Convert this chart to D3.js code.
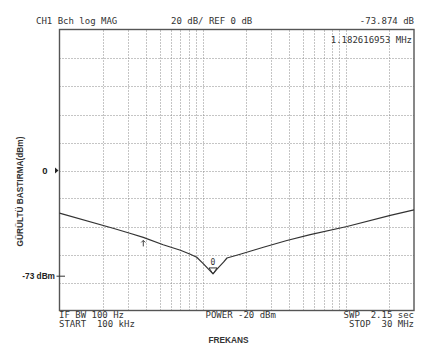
<!DOCTYPE html>
<html><head><meta charset="utf-8">
<script src="https://cdn.jsdelivr.net/npm/d3@7"></script>
<style>
body{margin:0;background:#fff;}
svg{display:block;}
.mono{font-family:"DejaVu Sans Mono","Liberation Mono",monospace;font-size:9px;fill:#333;white-space:pre;}
</style></head>
<body>
<svg id="chart" width="445" height="359"></svg>
<script>
// ---- data ----
const freqs = [1e5, 2.4e5, 3.1e5, 3.85e5, 5.3e5, 7e5, 8.2e5, 9.1e5, 1.01e6, 1.182616953e6, 1.26e6, 1.4e6, 1.48e6, 1.83e6, 2.66e6, 3.88e6, 5.65e6, 1.02e7, 2.05e7, 3e7];
const dbValues = [-30.5, -41.4, -44.8, -47.8, -53.0, -57.0, -59.8, -62.0, -66.5, -73.874, -70.5, -65.5, -62.5, -59.8, -54.8, -50, -45.8, -40, -32.1, -28.1];
const xGridFreqs = [2e5,3e5,4e5,5e5,6e5,7e5,8e5,9e5,1e6,2e6,3e6,4e6,5e6,6e6,7e6,8e6,9e6,1e7,2e7];
const yGridValues = [-80,-60,-40,-20,0,20,40,60,80];
const markerFreq = 1.182616953e6, markerDb = -73.874;
const subMarkerFreq = 3.85e5, subMarkerDb = -47.8;
const refLevel = 0, annotLevel = -73;
const headerLeft = "CH1 Bch log MAG";
const headerMid = "20 dB/ REF 0 dB";
const headerRight = "-73.874 dB";
const markerText = "1.182616953 MHz";
const footer1Left = "IF BW 100 Hz", footer2Left = "START  100 kHz";
const footerMid = "POWER -20 dBm";
const footer1Right = "SWP  2.15 sec", footer2Right = "STOP  30 MHz";
const xTitle = "FREKANS", yTitle = "GÜRÜLTÜ BASTIRMA(dBm)";

// ---- layout ----
const L = 59.5, R = 414, T = 30.5, B = 310.5;
const svg = d3.select("#chart");
const x = d3.scaleLog().domain([1e5, 3e7]).range([L, R]);
const y = d3.scaleLinear().domain([-100, 100]).range([B, T]);

// grid
const grid = svg.append("g").attr("stroke", "#8a8a8a").attr("stroke-width", 1).attr("stroke-dasharray", "1,2");
grid.selectAll("line.v").data(xGridFreqs).join("line")
  .attr("x1", d => Math.round(x(d)) + 0.5).attr("x2", d => Math.round(x(d)) + 0.5)
  .attr("y1", T).attr("y2", B);
grid.selectAll("line.h").data(yGridValues).join("line")
  .attr("x1", L).attr("x2", R)
  .attr("y1", d => Math.round(y(d)) + 0.5).attr("y2", d => Math.round(y(d)) + 0.5);

// frame
svg.append("rect").attr("x", L).attr("y", T - 1).attr("width", R - L).attr("height", B - T + 1)
  .attr("fill", "none").attr("stroke", "#555").attr("stroke-width", 1.4);

// trace
const line = d3.line().x((d, i) => x(freqs[i])).y(d => y(d)).curve(d3.curveLinear);
svg.append("path").datum(dbValues).attr("d", line)
  .attr("fill", "none").attr("stroke", "#333").attr("stroke-width", 1.2).attr("stroke-linejoin", "round");

// main marker triangle + label
const mx = x(markerFreq), my = y(markerDb);
svg.append("path").attr("d", `M${mx - 4},${my - 6} L${mx + 4},${my - 6} L${mx},${my} Z`)
  .attr("fill", "none").attr("stroke", "#333").attr("stroke-width", 1);
svg.append("text").attr("class", "mono").attr("x", mx).attr("y", my - 9).attr("text-anchor", "middle")
  .style("font-size", "8px").text("0");

// sub marker arrow
const sx = x(subMarkerFreq), sy = y(subMarkerDb);
svg.append("path").attr("d", `M${sx},${sy + 3} L${sx},${sy + 9} M${sx - 2},${sy + 5} L${sx},${sy + 3} L${sx + 2},${sy + 5}`)
  .attr("fill", "none").attr("stroke", "#444").attr("stroke-width", 1);

// header texts
svg.append("text").attr("class", "mono").attr("x", 36).attr("y", 23.5).text(headerLeft);
svg.append("text").attr("class", "mono").attr("x", 171).attr("y", 23.5).text(headerMid);
svg.append("text").attr("class", "mono").attr("x", 414).attr("y", 23.5).attr("text-anchor", "end").text(headerRight);
svg.append("text").attr("class", "mono").attr("x", 412).attr("y", 43).attr("text-anchor", "end").text(markerText);

// footer texts
svg.append("text").attr("class", "mono").attr("x", 59).attr("y", 318).text(footer1Left);
svg.append("text").attr("class", "mono").attr("x", 59).attr("y", 326.5).text(footer2Left);
svg.append("text").attr("class", "mono").attr("x", 205.5).attr("y", 318).text(footerMid);
svg.append("text").attr("class", "mono").attr("x", 414).attr("y", 318).attr("text-anchor", "end").text(footer1Right);
svg.append("text").attr("class", "mono").attr("x", 414).attr("y", 326.5).attr("text-anchor", "end").text(footer2Right);

// axis titles
svg.append("text").attr("x", 228.5).attr("y", 342.5).attr("text-anchor", "middle")
  .style("font-family", "'Liberation Sans', Arial, sans-serif").style("font-weight", "bold")
  .style("font-size", "8.3px").attr("fill", "#333").text(xTitle);
svg.append("text").attr("transform", "translate(23,191.5) rotate(-90)").attr("text-anchor", "middle")
  .style("font-family", "'Liberation Sans', Arial, sans-serif").style("font-weight", "bold")
  .style("font-size", "8.3px").attr("fill", "#333").text(yTitle);

// reference level annotation
const ry = y(refLevel);
svg.append("text").attr("x", 45).attr("y", ry + 3.5).attr("text-anchor", "middle")
  .style("font-family", "'Liberation Sans', Arial, sans-serif").style("font-weight", "bold")
  .style("font-size", "9.5px").attr("fill", "#222").text("0");
svg.append("path").attr("d", `M${L - 4.5},${ry - 3} L${L - 1},${ry} L${L - 4.5},${ry + 3} Z`).attr("fill", "#222");

// -73 dBm annotation
const ay = y(annotLevel) + 3.5;
svg.append("text").attr("x", 55).attr("y", ay + 3).attr("text-anchor", "end")
  .style("font-family", "'Liberation Sans', Arial, sans-serif").style("font-weight", "bold")
  .style("font-size", "8.3px").attr("fill", "#222").text("-73 dBm");
svg.append("line").attr("x1", 56.5).attr("x2", 65).attr("y1", ay).attr("y2", ay)
  .attr("stroke", "#333").attr("stroke-width", 1);
</script>
</body></html>
